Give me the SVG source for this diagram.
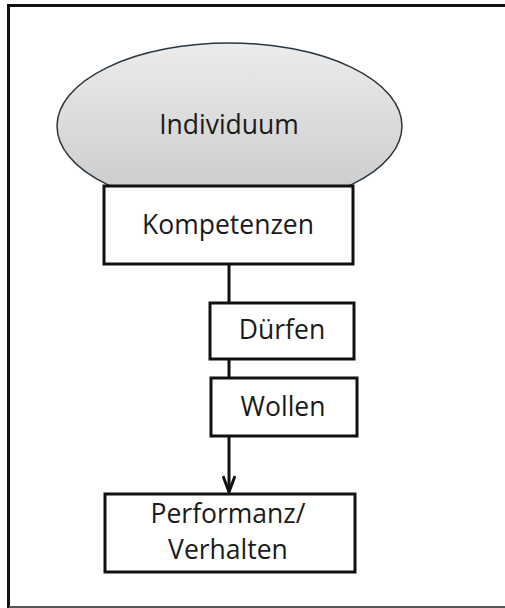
<svg xmlns="http://www.w3.org/2000/svg" width="505" height="608" viewBox="0 0 505 608">
  <style>
    .box { fill: #ffffff; stroke: #111111; stroke-width: 3; }
    .lbl { font-family: "Open Sans", "Noto Sans", sans-serif; font-size: 26.5px; fill: #1a1a1a; text-anchor: middle; }
    .wire { stroke: #111111; stroke-width: 3; fill: none; }
  </style>
  <defs>
    <linearGradient id="ovalFill" x1="0" y1="0" x2="0" y2="1">
      <stop offset="0" stop-color="#ececec"/>
      <stop offset="1" stop-color="#c9c9c9"/>
    </linearGradient>
    <marker id="openArrow" viewBox="0 0 20 14" refX="18" refY="7" markerWidth="20" markerHeight="14" markerUnits="userSpaceOnUse" orient="auto">
      <path d="M2,1 L18,7 L2,13" fill="none" stroke="#111111" stroke-width="3"/>
    </marker>
  </defs>

  <rect width="505" height="608" fill="#ffffff"/>

  <!-- outer frame -->
  <path d="M8.5,608 L8.5,5.5 L505,5.5" fill="none" stroke="#111111" stroke-width="3"/>
  <line x1="9" y1="607" x2="505" y2="607" stroke="#555555" stroke-width="2"/>

  <!-- connectors -->
  <g id="connectors">
    <line class="wire" x1="229" y1="264" x2="229" y2="303"/>
    <line class="wire" x1="229" y1="359" x2="229" y2="378"/>
    <line class="wire" x1="229" y1="436" x2="229" y2="492" marker-end="url(#openArrow)"/>
  </g>

  <g id="individuum">
    <ellipse cx="229.5" cy="126" rx="172.5" ry="83" fill="url(#ovalFill)" stroke="#2a3640" stroke-width="1.5"/>
    <text class="lbl" x="229" y="134">Individuum</text>
  </g>

  <g id="kompetenzen">
    <rect class="box" x="104" y="186" width="249" height="78"/>
    <text class="lbl" x="228" y="234">Kompetenzen</text>
  </g>

  <g id="duerfen">
    <rect class="box" x="210" y="303" width="144" height="56"/>
    <text class="lbl" x="282" y="339">Dürfen</text>
  </g>

  <g id="wollen">
    <rect class="box" x="211" y="378" width="146" height="58"/>
    <text class="lbl" x="283" y="416">Wollen</text>
  </g>

  <g id="performanz">
    <rect class="box" x="105" y="494" width="250" height="78"/>
    <text class="lbl" x="228" y="523">Performanz/</text>
    <text class="lbl" x="228" y="559">Verhalten</text>
  </g>
</svg>
